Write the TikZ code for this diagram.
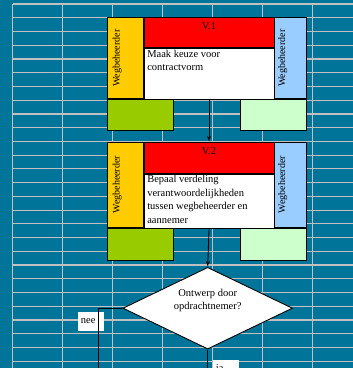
\documentclass[tikz,border=0pt]{standalone}
\usepackage{fontspec}
\setmainfont{Liberation Serif}
\usetikzlibrary{arrows,shapes.geometric}
\definecolor{sheet}{RGB}{0,117,153}
\definecolor{gridgray}{RGB}{192,192,192}
\definecolor{vyellow}{RGB}{255,204,0}
\definecolor{vred}{RGB}{255,0,0}
\definecolor{vblue}{RGB}{153,204,255}
\definecolor{vgreen}{RGB}{153,204,0}
\definecolor{vlight}{RGB}{204,255,204}

\begin{document}
\begin{tikzpicture}[x=1pt,y=-1pt,->,>=latex',
  gridline/.style={-,draw=gridgray,line width=1.2pt},
  cell/.style={draw=black,line width=0.9pt,inner sep=0pt,anchor=north west},
  wegtxt/.style={rotate=90,inner sep=0pt,font=\fontsize{10}{12}\selectfont},
  vtitle/.style={cell,fill=vred,minimum width=130pt,text height=12pt,font=\fontsize{10.5}{12}\selectfont},
  taak/.style={anchor=north west,inner sep=0pt,align=left,font=\fontsize{10.5}{13.5}\selectfont},
  keuze/.style={diamond,draw=black,fill=white,line width=0.9pt,aspect=2.08,minimum width=169.6pt,minimum height=81.7pt,inner sep=0pt,align=center,font=\fontsize{10.5}{13.5}\selectfont},
  tag/.style={fill=white,inner xsep=3pt,inner ysep=0pt,anchor=north west,minimum height=19pt,text width=20.6pt,align=left,font=\fontsize{10.5}{12}\selectfont}]
\useasboundingbox (0,0) rectangle (353,368);
\fill[sheet] (0,0) rectangle (353,368);
\foreach \gx in {12.7,62.7,...,312.7}
  \draw[gridline] (\gx,4) -- (\gx,368);
\foreach \k in {0,...,26}
  \draw[gridline] (12.7,{4+13.74*\k}) -- (353,{4+13.74*\k});

\node[cell,fill=vyellow,minimum width=35.4pt,minimum height=81pt] (Yel1) at (107.3,17.3) {};
\node[vtitle,text depth=18pt]                       (Red1) at (Yel1.north east) {V.1};
\node[cell,fill=white,minimum width=130pt,minimum height=51pt]  (Wit1) at (Red1.south west) {};
\node[cell,fill=vblue,minimum width=31.3pt,minimum height=81pt] (Blu1) at (Red1.north east) {};
\node[cell,fill=vgreen,minimum width=65.4pt,minimum height=31pt] (Grn1) at (Yel1.south west) {};
\node[cell,fill=vlight,minimum width=65.3pt,minimum height=31pt,anchor=north east] (Lgt1) at (Blu1.south east) {};
\node[wegtxt] (Weg1a) at ([xshift=9.9pt]Yel1.west) {Wegbeheerder};
\node[wegtxt] (Weg1b) at ([xshift=8.2pt]Blu1.west) {Wegbeheerder};
\node[taak]   (Taak1) at ([xshift=3.5pt,yshift=-1.5pt]Wit1.north west) {Maak keuze voor\\contractvorm};

\node[cell,fill=vyellow,minimum width=35.4pt,minimum height=85pt] (Yel2) at (107.3,141.7) {};
\node[vtitle,text depth=19pt]                       (Red2) at (Yel2.north east) {V.2};
\node[cell,fill=white,minimum width=130pt,minimum height=54pt]  (Wit2) at (Red2.south west) {};
\node[cell,fill=vblue,minimum width=31.3pt,minimum height=85pt] (Blu2) at (Red2.north east) {};
\node[cell,fill=vgreen,minimum width=65.4pt,minimum height=32.6pt] (Grn2) at (Yel2.south west) {};
\node[cell,fill=vlight,minimum width=65.3pt,minimum height=32.6pt,anchor=north east] (Lgt2) at (Blu2.south east) {};
\node[wegtxt] (Weg2a) at ([xshift=9.9pt]Yel2.west) {Wegbeheerder};
\node[wegtxt] (Weg2b) at ([xshift=8.2pt]Blu2.west) {Wegbeheerder};
\node[taak]   (Taak2) at ([xshift=3.5pt,yshift=-1.5pt]Wit2.north west) {Bepaal verdeling\\verantwoordelijkheden\\tussen wegbeheerder en\\aannemer};

\node[keuze] (Dia) at (207.7,308.2) {Ontwerp door\\opdrachtnemer?\\[4pt]};
\draw[line width=0.9pt] (Wit1.south) -- (Red2.north);
\draw[line width=0.9pt] (Wit2.south) -- (Dia.north);

\coordinate (NeeEnd) at (98.3,390);
\coordinate (JaEnd)  at (207.7,390);
\node[tag] (Nee) at (77.7,311.7) {nee};
\draw[line width=0.9pt] (Dia.west) -| (NeeEnd);
\node[tag] (Ja)  at (212.7,359.3) {ja};
\draw[line width=0.9pt] (Dia.south) -- (JaEnd);
\end{tikzpicture}
\end{document}
